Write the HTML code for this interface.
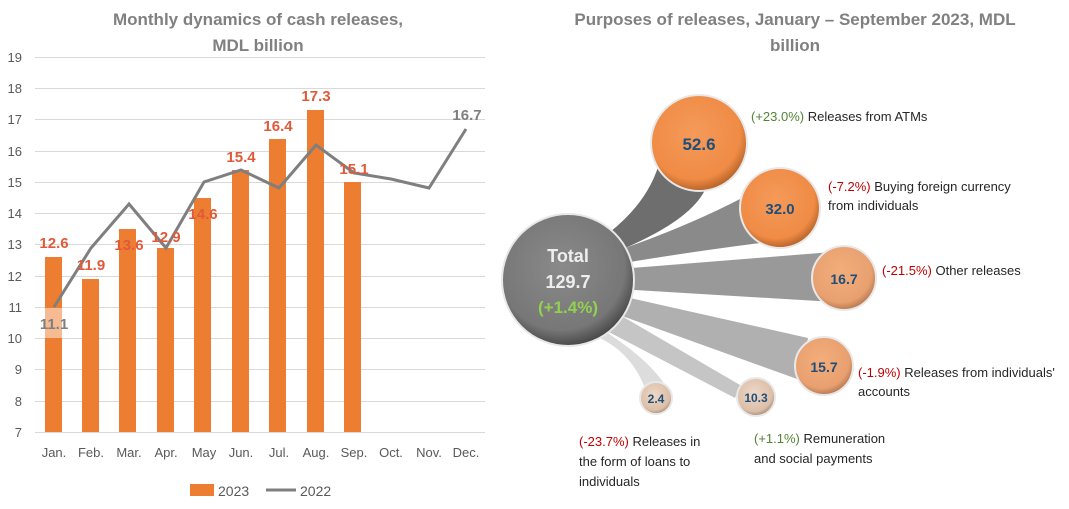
<!DOCTYPE html>
<html><head><meta charset="utf-8"><style>
body{margin:0;background:#fff;width:1069px;height:504px;overflow:hidden;font-family:"Liberation Sans",sans-serif}
</style></head><body>
<svg width="1069" height="504" xmlns="http://www.w3.org/2000/svg" font-family="Liberation Sans, sans-serif">
<defs>
<radialGradient id="og" cx="45%" cy="40%" r="60%"><stop offset="0" stop-color="#f59a5a"/><stop offset=".8" stop-color="#ef8b45"/><stop offset="1" stop-color="#b8652a"/></radialGradient>
<radialGradient id="og2" cx="45%" cy="40%" r="60%"><stop offset="0" stop-color="#f3ad7a"/><stop offset=".8" stop-color="#e8a070"/><stop offset="1" stop-color="#b87a50"/></radialGradient>
<radialGradient id="og3" cx="45%" cy="40%" r="60%"><stop offset="0" stop-color="#eed8c8"/><stop offset=".8" stop-color="#dcbfa8"/><stop offset="1" stop-color="#a88a78"/></radialGradient>
<radialGradient id="gg" cx="45%" cy="40%" r="60%"><stop offset="0" stop-color="#8a8a8a"/><stop offset=".8" stop-color="#777"/><stop offset="1" stop-color="#4a4a4a"/></radialGradient>
</defs>
<!-- left chart -->
<text x="258" y="25" text-anchor="middle" font-size="17" font-weight="bold" fill="#808080">Monthly dynamics of cash releases,</text>
<text x="258" y="51" text-anchor="middle" font-size="17" font-weight="bold" fill="#808080">MDL billion</text>
<g stroke="#d9d9d9" stroke-width="1">
<line x1="35" y1="57.5" x2="485" y2="57.5"/><line x1="35" y1="88.5" x2="485" y2="88.5"/><line x1="35" y1="119.5" x2="485" y2="119.5"/><line x1="35" y1="151.5" x2="485" y2="151.5"/><line x1="35" y1="182.5" x2="485" y2="182.5"/><line x1="35" y1="213.5" x2="485" y2="213.5"/><line x1="35" y1="244.5" x2="485" y2="244.5"/><line x1="35" y1="276.5" x2="485" y2="276.5"/><line x1="35" y1="307.5" x2="485" y2="307.5"/><line x1="35" y1="338.5" x2="485" y2="338.5"/><line x1="35" y1="369.5" x2="485" y2="369.5"/><line x1="35" y1="401.5" x2="485" y2="401.5"/><line x1="35" y1="432.5" x2="485" y2="432.5"/>
</g>
<g font-size="13" fill="#595959" text-anchor="end">
<text x="22" y="62">19</text><text x="22" y="93">18</text><text x="22" y="124">17</text><text x="22" y="156">16</text><text x="22" y="187">15</text><text x="22" y="218">14</text><text x="22" y="249">13</text><text x="22" y="281">12</text><text x="22" y="312">11</text><text x="22" y="343">10</text><text x="22" y="374">9</text><text x="22" y="406">8</text><text x="22" y="437">7</text>
</g>
<g fill="#ed7d31">
<rect x="45" y="257" width="17" height="175"/><rect x="82" y="279" width="17" height="153"/><rect x="119" y="229" width="17" height="203"/><rect x="157" y="248" width="17" height="184"/><rect x="194" y="198" width="17" height="234"/><rect x="232" y="170" width="17" height="262"/><rect x="269" y="139" width="17" height="293"/><rect x="307" y="110" width="17" height="322"/><rect x="344" y="182" width="17" height="250"/>
</g>
<rect x="45" y="308" width="17" height="30" fill="#f8cbad" opacity=".8"/>
<polyline fill="none" stroke="#7f7f7f" stroke-width="3" points="54,307 91,248 129,204 166,248 204,182 241,170 279,188 316,145 354,173 391,179 429,188 466,129"/>
<g font-size="15" font-weight="bold" fill="#e05a3a" text-anchor="middle">
<text x="54" y="248">12.6</text><text x="91" y="270">11.9</text><text x="129" y="250">13.6</text><text x="166" y="242">12.9</text><text x="203" y="219">14.6</text><text x="241" y="162">15.4</text><text x="278" y="131">16.4</text><text x="316" y="101">17.3</text><text x="354" y="174">15.1</text>
</g>
<text x="54" y="329" text-anchor="middle" font-size="15" font-weight="bold" fill="#7f7f7f">11.1</text>
<text x="467" y="120" text-anchor="middle" font-size="15" font-weight="bold" fill="#7f7f7f">16.7</text>
<g font-size="13" fill="#595959" text-anchor="middle">
<text x="54" y="457">Jan.</text><text x="91" y="457">Feb.</text><text x="129" y="457">Mar.</text><text x="166" y="457">Apr.</text><text x="204" y="457">May</text><text x="241" y="457">Jun.</text><text x="279" y="457">Jul.</text><text x="316" y="457">Aug.</text><text x="354" y="457">Sep.</text><text x="391" y="457">Oct.</text><text x="429" y="457">Nov.</text><text x="466" y="457">Dec.</text>
</g>
<rect x="190" y="484" width="24" height="12" fill="#ed7d31"/><text x="218" y="496" font-size="14" fill="#595959">2023</text>
<line x1="266" y1="490" x2="296" y2="490" stroke="#7f7f7f" stroke-width="3"/><text x="300" y="496" font-size="14" fill="#595959">2022</text>
<!-- right chart -->
<text x="795" y="25" text-anchor="middle" font-size="17" font-weight="bold" fill="#808080">Purposes of releases, January – September 2023, MDL</text>
<text x="795" y="51" text-anchor="middle" font-size="17" font-weight="bold" fill="#808080">billion</text>
<!-- connectors -->
<path d="M610,232 Q650,200 660,160 L705,190 Q690,220 625,248 Z" fill="#6e6e6e"/>
<path d="M625,248 Q690,225 742,198 L760,243 Q690,252 630,262 Z" fill="#8a8a8a"/>
<path d="M632,268 L832,252 L835,302 L634,290 Z" fill="#999"/>
<path d="M630,298 L808,338 L800,380 L622,316 Z" fill="#b0b0b0"/>
<path d="M620,315 L740,385 L735,398 L605,330 Z" fill="#c5c5c5"/>
<path d="M603,330 Q650,360 667,388 L645,388 Q630,350 595,336 Z" fill="#dcdcdc"/>
<g stroke="#e8e8e8" stroke-width="2">
<circle cx="568" cy="280" r="66" fill="url(#gg)"/>
<circle cx="699" cy="143" r="48" fill="url(#og)"/>
<circle cx="780" cy="208" r="40" fill="url(#og)"/>
<circle cx="844" cy="278" r="32" fill="url(#og2)"/>
<circle cx="824" cy="366" r="29" fill="url(#og2)"/>
<circle cx="656" cy="398" r="16" fill="url(#og3)"/>
<circle cx="756" cy="397" r="19" fill="url(#og3)"/>
</g>
<g font-weight="bold" text-anchor="middle">
<text x="568" y="262" font-size="18" fill="#eee">Total</text>
<text x="568" y="288" font-size="18" fill="#eee">129.7</text>
<text x="568" y="313" font-size="17" fill="#92d050">(+1.4%)</text>
<g fill="#1f4e79"><text x="699" y="150" font-size="17">52.6</text><text x="780" y="214" font-size="15">32.0</text><text x="844" y="284" font-size="14">16.7</text><text x="824" y="372" font-size="14">15.7</text><text x="656" y="403" font-size="12">2.4</text><text x="756" y="402" font-size="12">10.3</text></g>
</g>
<g font-size="13" fill="#262626">
<text x="751" y="121"><tspan fill="#548235">(+23.0%)</tspan> Releases from ATMs</text>
<text x="828" y="191"><tspan fill="#c00000">(-7.2%)</tspan> Buying foreign currency</text>
<text x="828" y="210">from individuals</text>
<text x="882" y="275"><tspan fill="#c00000">(-21.5%)</tspan> Other releases</text>
<text x="858" y="377"><tspan fill="#c00000">(-1.9%)</tspan> Releases from individuals'</text>
<text x="858" y="396">accounts</text>
<text x="754" y="443"><tspan fill="#548235">(+1.1%)</tspan> Remuneration</text>
<text x="754" y="463">and social payments</text>
<text x="579" y="446"><tspan fill="#c00000">(-23.7%)</tspan> Releases in</text>
<text x="579" y="466">the form of loans to</text>
<text x="579" y="486">individuals</text>
</g>
</svg>
</body></html>
